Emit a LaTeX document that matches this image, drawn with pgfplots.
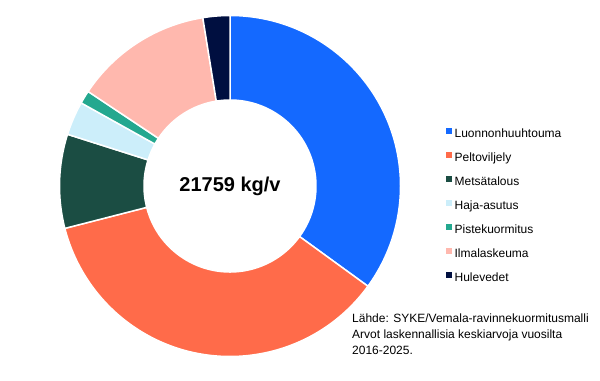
\documentclass[border=0pt]{standalone}
\usepackage{fontspec}
\setmainfont{Liberation Sans}
\usepackage{pgfplots}
\usepackage{pgfplotstable}
\pgfplotsset{compat=1.18}
\definecolor{cA}{HTML}{1469FF}
\definecolor{cB}{HTML}{FF6B4A}
\definecolor{cC}{HTML}{1B4D43}
\definecolor{cD}{HTML}{CCEEFA}
\definecolor{cE}{HTML}{24A88F}
\definecolor{cF}{HTML}{FFB8AE}
\definecolor{cG}{HTML}{000F40}
\pgfplotstableread{
name value col
Luonnonhuuhtouma 7616 cA
Peltoviljely 7833 cB
Metsätalous 1937 cC
Haja-asutus 696 cD
Pistekuormitus 272 cE
Ilmalaskeuma 2850 cF
Hulevedet 555 cG
}\loadtable
\pgfplotsset{sq/.style={legend image code/.code={\fill[#1] (0pt,1.8pt) rectangle (4.5pt,6.3pt);}}}
\begin{document}
\begin{tikzpicture}
\begin{axis}[
  width=600pt, height=373pt, scale only axis,
  xmin=0, xmax=600, ymin=0, ymax=373,
  hide axis, clip=false,
  legend cell align=left,
  legend style={at={(axis cs:446,245)}, anchor=north west, draw=none, fill=none,
    inner sep=0pt, font=\fontsize{12}{14}\selectfont, row sep=11.5pt,
    nodes={inner sep=0pt, text height=9pt, text depth=3pt}},
]
\path (axis cs:0,0) rectangle (axis cs:600,373);
\def\cum{0}
\pgfplotsforeachungrouped \i in {0,...,6}{%
  \pgfplotstablegetelem{\i}{value}\of\loadtable \let\segval\pgfplotsretval
  \pgfplotstablegetelem{\i}{col}\of\loadtable \let\segcol\pgfplotsretval
  \pgfmathsetmacro\aS{90-360*\cum/21.759}%
  \pgfmathsetmacro\cumN{\cum+\segval/1000}%
  \pgfmathsetmacro\aE{90-360*\cumN/21.759}%
  \let\cum\cumN
  \edef\tmp{\noexpand\fill[\segcol, draw=white, line width=1.5pt]
    ([shift={(\aS:170.5pt)}]axis cs:230,187) arc[start angle=\aS, end angle=\aE, radius=170.5pt]
    -- ([shift={(\aE:86pt)}]axis cs:230,187) arc[start angle=\aE, end angle=\aS, radius=86pt] -- cycle;}%
  \tmp
}
\addlegendimage{sq=cA}\addlegendentry{\hspace{3.5pt}Luonnonhuuhtouma}
\addlegendimage{sq=cB}\addlegendentry{\hspace{3.5pt}Peltoviljely}
\addlegendimage{sq=cC}\addlegendentry{\hspace{3.5pt}Metsätalous}
\addlegendimage{sq=cD}\addlegendentry{\hspace{3.5pt}Haja-asutus}
\addlegendimage{sq=cE}\addlegendentry{\hspace{3.5pt}Pistekuormitus}
\addlegendimage{sq=cF}\addlegendentry{\hspace{3.5pt}Ilmalaskeuma}
\addlegendimage{sq=cG}\addlegendentry{\hspace{3.5pt}Hulevedet}
\node at (axis cs:230,187) {\bfseries\fontsize{20}{24}\selectfont 21759 kg/v};
\node[anchor=north west, align=left, inner sep=0pt, font=\fontsize{12}{16.3}\selectfont]
  at (axis cs:352,59.5) {Lähde: SYKE/Vemala-ravinnekuormitusmalli\\Arvot laskennallisia keskiarvoja vuosilta\\2016-2025.};
\end{axis}
\end{tikzpicture}
\end{document}
